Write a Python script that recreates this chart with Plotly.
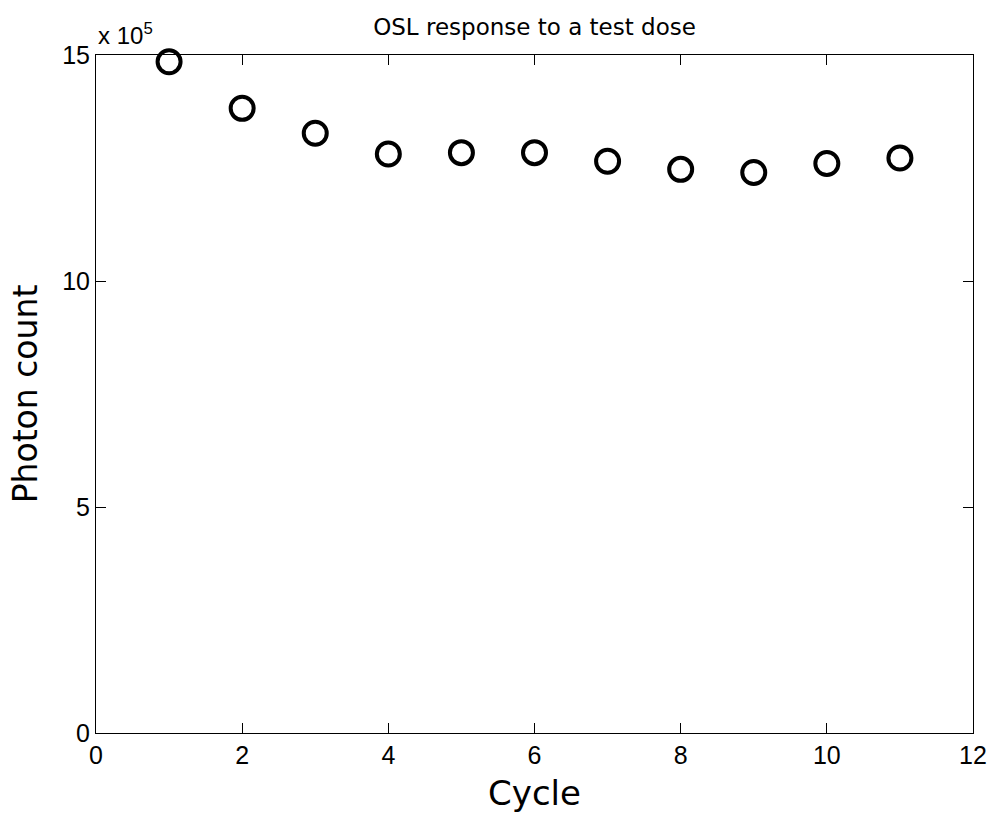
import plotly.graph_objects as go

cycles = [1, 2, 3, 4, 5, 6, 7, 8, 9, 10, 11]
photon_counts = [1485000, 1382000, 1327000, 1281000, 1284000, 1284000,
                 1265000, 1247000, 1240000, 1260000, 1272000]

x_ticks = [0, 2, 4, 6, 8, 10, 12]
y_tickvals = [0, 500000, 1000000, 1500000]
y_ticktext = ["0", "5", "10", "15"]

fig = go.Figure()
fig.add_trace(go.Scatter(
    x=cycles, y=photon_counts, mode="markers",
    marker=dict(symbol="circle-open", size=23, color="black",
                line=dict(width=4, color="black")),
    showlegend=False, cliponaxis=False,
))

tickfont = dict(family="Liberation Sans", size=25, color="black")
fig.update_layout(
    width=989, height=813,
    margin=dict(l=96, r=16, t=55, b=80),
    paper_bgcolor="white", plot_bgcolor="white",
    title=dict(text="OSL response to a test dose", x=0.5, xref="paper",
               xanchor="center", y=1 - 27 / 813, yref="container",
               yanchor="middle",
               font=dict(family="DejaVu Sans", size=23, color="black")),
    xaxis=dict(range=[0, 12], tickvals=x_ticks, ticks="inside", ticklen=10,
               tickcolor="black", showline=True, linecolor="black",
               linewidth=1, mirror="ticks", showgrid=False, zeroline=False,
               tickfont=tickfont, automargin=False,
               title=dict(text="Cycle", standoff=13,
                          font=dict(family="DejaVu Sans", size=34, color="black"))),
    yaxis=dict(range=[0, 1500000], tickvals=y_tickvals, ticktext=y_ticktext,
               ticks="inside", ticklen=10, tickcolor="black", showline=True,
               linecolor="black", linewidth=1, mirror="ticks", showgrid=False,
               zeroline=False, tickfont=tickfont, automargin=False,
               title=dict(text="Photon count", standoff=14,
                          font=dict(family="DejaVu Sans", size=33, color="black"))),
)

fig.add_annotation(text="x 10<sup>5</sup>", xref="paper", yref="paper",
                   x=0, y=1, xanchor="left", yanchor="bottom", yshift=4,
                   showarrow=False,
                   font=dict(family="Liberation Sans", size=24, color="black"))

fig.write_html("out.html")
